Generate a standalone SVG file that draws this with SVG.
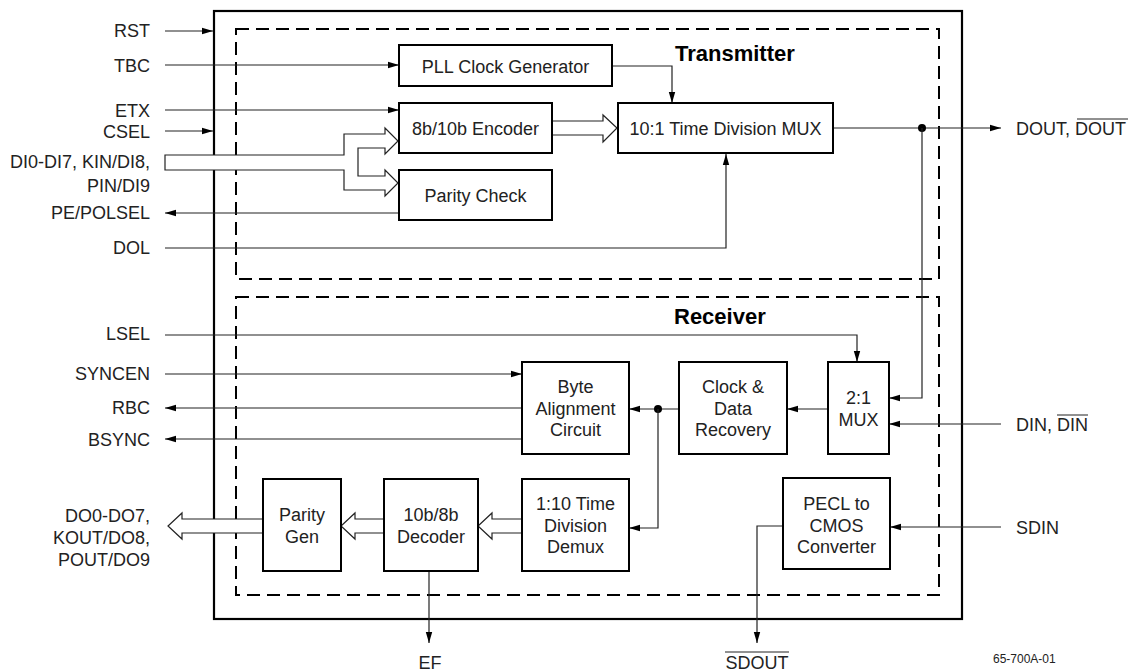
<svg xmlns="http://www.w3.org/2000/svg" width="1131" height="672" viewBox="0 0 1131 672">
<style>
text{font-family:"Liberation Sans",Arial,sans-serif;font-size:18px;fill:#222}
.r{text-anchor:end}
.m{text-anchor:middle}
.h{font-weight:bold;font-size:22px;fill:#000}
.fn{font-size:12px}
.blk{fill:#fff;stroke:#000;stroke-width:2}
.dash{fill:none;stroke:#000;stroke-width:2;stroke-dasharray:13 7}
.w{fill:none;stroke:#222;stroke-width:1.2}
.bus{fill:#fff;stroke:#222;stroke-width:1.2}
</style>
<defs>
<marker id="a" markerUnits="userSpaceOnUse" markerWidth="11" markerHeight="8" refX="11" refY="4" orient="auto">
<path d="M0,0.8 L11,4 L0,7.2 z" fill="#000"/>
</marker>
</defs>
<g id="outer"><rect x="214" y="11" width="748" height="608" fill="none" stroke="#000" stroke-width="2.2"/></g>
<g id="transmitter-frame"><rect class="dash" x="236" y="29" width="703" height="250"/><text class="h" x="675" y="61">Transmitter</text></g>
<g id="receiver-frame"><rect class="dash" x="236" y="297" width="703" height="298"/><text class="h" x="674" y="324">Receiver</text></g>

<g id="connectors">
<line class="w" x1="165" y1="31" x2="213" y2="31" marker-end="url(#a)"/>
<line class="w" x1="165" y1="65" x2="399" y2="65" marker-end="url(#a)"/>
<line class="w" x1="165" y1="110" x2="399" y2="110" marker-end="url(#a)"/>
<line class="w" x1="165" y1="131" x2="213" y2="131" marker-end="url(#a)"/>
<line class="w" x1="399" y1="213" x2="165" y2="213" marker-end="url(#a)"/>
<polyline class="w" points="165,248 726,248 726,154" marker-end="url(#a)"/>
<polyline class="w" points="612,66 672,66 672,103" marker-end="url(#a)"/>
<line class="w" x1="833" y1="128" x2="1001" y2="128" marker-end="url(#a)"/>
<circle cx="922" cy="128" r="4" fill="#000"/>
<polyline class="w" points="922,128 922,398 889,398" marker-end="url(#a)"/>
<polygon class="bus" points="165,155 344,155 344,134 385,134 385,128 398,141 385,154 385,148 358,148 358,176 385,176 385,170 398,183 385,196 385,190 344,190 344,170 165,170"/>
<polygon class="bus" points="552,121 603,121 603,115 617,128 603,142 603,135 552,135"/>

<polyline class="w" points="165,335 857,335 857,362" marker-end="url(#a)"/>
<line class="w" x1="165" y1="374" x2="522" y2="374" marker-end="url(#a)"/>
<line class="w" x1="522" y1="408" x2="165" y2="408" marker-end="url(#a)"/>
<line class="w" x1="522" y1="439" x2="165" y2="439" marker-end="url(#a)"/>
<line class="w" x1="828" y1="409" x2="787" y2="409" marker-end="url(#a)"/>
<line class="w" x1="679" y1="409" x2="629" y2="409" marker-end="url(#a)"/>
<circle cx="658" cy="409" r="4" fill="#000"/>
<polyline class="w" points="658,409 658,528 629,528" marker-end="url(#a)"/>
<line class="w" x1="1001" y1="424" x2="889" y2="424" marker-end="url(#a)"/>
<line class="w" x1="1001" y1="527" x2="890" y2="527" marker-end="url(#a)"/>
<polyline class="w" points="783,526 757,526 757,643" marker-end="url(#a)"/>
<line class="w" x1="429" y1="571" x2="429" y2="643" marker-end="url(#a)"/>
<polygon class="bus" points="522,519 492,519 492,513 478,526 492,539 492,533 522,533"/>
<polygon class="bus" points="384,519 355,519 355,513 341,526 355,539 355,533 384,533"/>
<polygon class="bus" points="263,519 182,519 182,513 168,526 182,539 182,533 263,533"/>
</g>

<g id="pll"><rect class="blk" x="399" y="45" width="213" height="41"/><text class="m" x="505.5" y="73">PLL Clock Generator</text></g>
<g id="encoder"><rect class="blk" x="399" y="103" width="153" height="50"/><text class="m" x="475.5" y="135">8b/10b Encoder</text></g>
<g id="parity-check"><rect class="blk" x="399" y="170" width="153" height="50"/><text class="m" x="475.5" y="202">Parity Check</text></g>
<g id="mux10"><rect class="blk" x="618" y="103" width="215" height="50"/><text class="m" x="725.5" y="135">10:1 Time Division MUX</text></g>

<g id="byte-align"><rect class="blk" x="522" y="362" width="107" height="92"/><text class="m" x="575.5" y="393">Byte</text><text class="m" x="575.5" y="415">Alignment</text><text class="m" x="575.5" y="436">Circuit</text></g>
<g id="cdr"><rect class="blk" x="679" y="362" width="108" height="92"/><text class="m" x="733" y="393">Clock &amp;</text><text class="m" x="733" y="415">Data</text><text class="m" x="733" y="436">Recovery</text></g>
<g id="mux21"><rect class="blk" x="828" y="362" width="61" height="92"/><text class="m" x="858.5" y="404">2:1</text><text class="m" x="858.5" y="426">MUX</text></g>
<g id="demux"><rect class="blk" x="522" y="479" width="107" height="92"/><text class="m" x="575.5" y="510">1:10 Time</text><text class="m" x="575.5" y="532">Division</text><text class="m" x="575.5" y="553">Demux</text></g>
<g id="decoder"><rect class="blk" x="384" y="479" width="94" height="92"/><text class="m" x="431" y="521">10b/8b</text><text class="m" x="431" y="543">Decoder</text></g>
<g id="parity-gen"><rect class="blk" x="263" y="479" width="78" height="92"/><text class="m" x="302" y="521">Parity</text><text class="m" x="302" y="543">Gen</text></g>
<g id="pecl"><rect class="blk" x="783" y="478" width="107" height="91"/><text class="m" x="836.5" y="510">PECL to</text><text class="m" x="836.5" y="532">CMOS</text><text class="m" x="836.5" y="553">Converter</text></g>

<g id="labels">
<text class="r" x="150" y="37">RST</text>
<text class="r" x="150" y="72">TBC</text>
<text class="r" x="150" y="117">ETX</text>
<text class="r" x="150" y="138">CSEL</text>
<text class="r" x="150" y="168">DI0-DI7, KIN/DI8,</text>
<text class="r" x="150" y="192">PIN/DI9</text>
<text class="r" x="150" y="219">PE/POLSEL</text>
<text class="r" x="150" y="254">DOL</text>
<text class="r" x="150" y="340">LSEL</text>
<text class="r" x="150" y="380">SYNCEN</text>
<text class="r" x="150" y="414">RBC</text>
<text class="r" x="150" y="446">BSYNC</text>
<text class="r" x="150" y="522">DO0-DO7,</text>
<text class="r" x="150" y="544">KOUT/DO8,</text>
<text class="r" x="150" y="566">POUT/DO9</text>
<text x="1016" y="135">DOUT, DOUT</text>
<line x1="1077" y1="119" x2="1128" y2="119" stroke="#222" stroke-width="1"/>
<text x="1016" y="431">DIN, DIN</text>
<line x1="1057" y1="415" x2="1088" y2="415" stroke="#222" stroke-width="1"/>
<text x="1016" y="534">SDIN</text>
<text class="m" x="430" y="669">EF</text>
<text class="m" x="757" y="669">SDOUT</text>
<line x1="725" y1="652" x2="789" y2="652" stroke="#222" stroke-width="1"/>
<text class="fn" x="993" y="663">65-700A-01</text>
</g>
</svg>
